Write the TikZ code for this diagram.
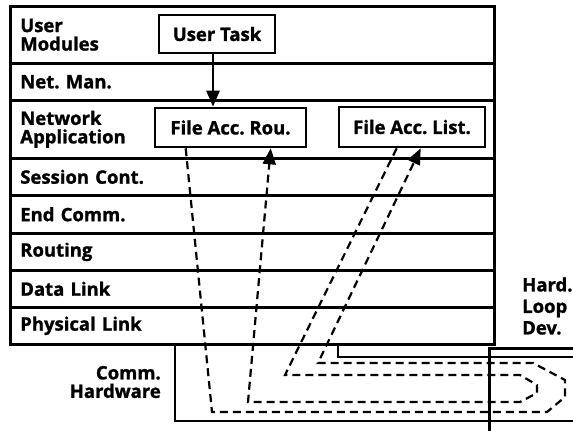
\documentclass[tikz,border=0pt]{standalone}
\usepackage{fontspec}
\setmainfont{Open Sans}[BoldFeatures={FakeBold=1.3}]
\frenchspacing
\usetikzlibrary{arrows.meta}
\begin{document}
\begin{tikzpicture}[x=1pt,y=-1pt,
  every node/.style={font=\bfseries\fontsize{18.5}{18.5}\selectfont},
  layer/.style={draw, line width=2.6pt, anchor=north west, minimum width=484pt,
    text width=464pt, inner xsep=10pt, inner ysep=0pt, align=left},
  box/.style={draw, line width=2.6pt, inner sep=0pt},
  lbl/.style={inner sep=0pt},
  wall/.style={line width=2.6pt},
  flow/.style={line width=2.2pt, dash pattern=on 8pt off 5pt},
  tip/.style={-{Triangle[length=16pt,width=13pt]}}]
\useasboundingbox (0,0) rectangle (573,431);
% protocol layers
\node[layer, minimum height=57pt] (um) at (9,5) {User\\Modules};
\node[layer, minimum height=37pt] (nm) at (9,62) {Net. Man.};
\node[layer, minimum height=58pt] (na) at (9,99) {Network\\Application};
\node[layer, minimum height=37pt] (sc) at (9,157) {Session Cont.};
\node[layer, minimum height=38pt] (ec) at (9,194) {End Comm.};
\node[layer, minimum height=37pt] (rt) at (9,232) {Routing};
\node[layer, minimum height=37pt] (dl) at (9,269) {Data Link};
\node[layer, minimum height=37pt] (pl) at (9,306) {Physical Link};
% boxes
\node[box, minimum width=116pt, minimum height=38pt] (ut) at (217,34) {User Task};
\node[box, minimum width=151pt, minimum height=39pt] (rou) at (230.5,127.5) {File Acc. Rou.};
\node[box, minimum width=146pt, minimum height=40pt] (lst) at (412,127) {File Acc. List.};
\draw[wall, tip] ([xshift=-4pt]ut.south) -- ([xshift=-4pt]ut.south |- rou.north);
% communication hardware
\coordinate (chtl) at (175,343);
\coordinate (chtr) at (338,343);
\draw[wall] (chtl) -- (175,421) -- (580,421);
\draw[wall] (chtr) -- (338,357) -- (580,357);
\node[lbl, align=right, anchor=east] (chl) at (161,382) {Comm.\\Hardware};
% hardware loop device
\node[draw, line width=2.6pt, anchor=north west, minimum width=110pt, minimum height=110pt] (hld) at (488,347) {};
\node[lbl, align=left, anchor=west, font=\bfseries\fontsize{18.5}{21.5}\selectfont] (hldl) at (522,306) {Hard.\\Loop\\Dev.};
% data flows
\coordinate (a0) at ([xshift=32pt]rou.south west);
\coordinate (b0) at ([xshift=117pt]rou.south west);
\coordinate (c0) at ([xshift=59pt]lst.south west);
\coordinate (d0) at ([xshift=83pt]lst.south west);
\draw[flow, tip] (a0) -- (212,412) -- (547,412) -- (565,397) -- (565,380)
  -- (533,363) -- (318,363) -- (d0);
\draw[flow, tip] (c0) -- (285,375) -- (520,375) -- (537,385) -- (537,393)
  -- (520,402) -- (248,402) -- (b0);
\end{tikzpicture}
\end{document}
